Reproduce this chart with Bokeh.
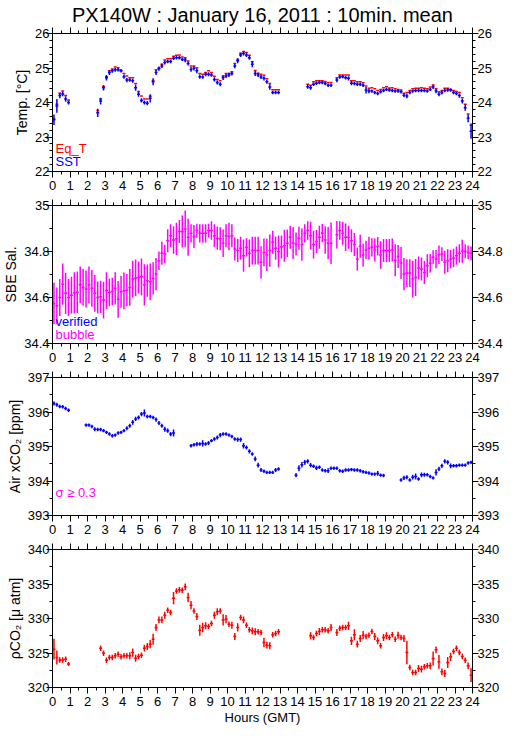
import numpy as np
from bokeh.plotting import figure
from bokeh.models import ColumnDataSource, LinearAxis, FixedTicker, Label, Range1d, Title
from bokeh.layouts import column
from bokeh.embed import file_html
from bokeh.resources import INLINE

N = None

# 10-minute bins over the day (bin centres, hours GMT)
hours = [i / 6 + 1 / 12 for i in range(144)]
hour_ticks = list(range(25))
half_hour_ticks = [h + 0.5 for h in range(24)]

# ---------------- Temperature panel ----------------
sst = [
    23.50, 23.90, 24.20, 24.25, 24.10, 24.00,
    N, N, N, N, N, N,
    N, N, N, 23.70, 24.04, 24.43,
    24.72, 24.87, 24.92, 24.95, 24.95, 24.92,
    24.75, 24.65, 24.65, 24.63, 24.43, 24.24,
    24.06, 24.00, 23.98, 24.12, 24.60, 24.87,
    24.98, 25.06, 25.16, 25.19, 25.19, 25.28,
    25.30, 25.30, 25.25, 25.23, 25.13, 24.96,
    24.99, 24.92, 24.75, 24.74, 24.82, 24.82,
    24.80, 24.67, 24.58, 24.53, 24.72, 24.77,
    24.80, 24.84, 25.06, 25.21, 25.38, 25.42,
    25.38, 25.30, 25.11, 24.84, 24.80, 24.74,
    24.70, 24.60, 24.45, 24.29, 24.29, 24.29,
    N, N, N, N, N, N,
    N, N, N, 24.46, 24.43, 24.53,
    24.56, 24.58, 24.58, 24.55, 24.50, 24.50,
    N, 24.65, 24.74, 24.75, 24.72, 24.70,
    24.56, 24.55, 24.53, 24.53, 24.50, 24.36,
    24.33, 24.33, 24.29, 24.26, 24.31, 24.35,
    24.38, 24.36, 24.35, 24.33, 24.33, 24.31,
    24.21, 24.19, 24.29, 24.33, 24.35, 24.35,
    24.35, 24.35, 24.33, 24.38, 24.45, 24.33,
    24.24, 24.29, 24.35, 24.36, 24.36, 24.29,
    24.26, 24.20, 24.04, 23.85, 23.54, 23.17,
]
sst_sd = [
    0.15, 0.20, 0.08, 0.07, 0.08, 0.06,
    0, 0, 0, 0, 0, 0,
    0, 0, 0, 0.12, 0.10, 0.08,
    0.08, 0.07, 0.06, 0.06, 0.05, 0.05,
    0.06, 0.06, 0.05, 0.06, 0.09, 0.07,
    0.06, 0.06, 0.06, 0.12, 0.10, 0.07,
    0.06, 0.06, 0.06, 0.05, 0.05, 0.05,
    0.05, 0.05, 0.05, 0.06, 0.06, 0.07,
    0.06, 0.07, 0.06, 0.05, 0.06, 0.06,
    0.05, 0.06, 0.06, 0.06, 0.07, 0.06,
    0.06, 0.06, 0.07, 0.07, 0.06, 0.06,
    0.06, 0.06, 0.09, 0.07, 0.06, 0.06,
    0.06, 0.06, 0.08, 0.05, 0.05, 0.05,
    0, 0, 0, 0, 0, 0,
    0, 0, 0, 0.06, 0.06, 0.05,
    0.05, 0.05, 0.05, 0.05, 0.05, 0.05,
    0, 0.06, 0.05, 0.05, 0.05, 0.06,
    0.06, 0.05, 0.05, 0.05, 0.05, 0.10,
    0.06, 0.05, 0.05, 0.05, 0.05, 0.05,
    0.05, 0.05, 0.05, 0.05, 0.05, 0.05,
    0.06, 0.07, 0.05, 0.05, 0.05, 0.05,
    0.05, 0.05, 0.05, 0.05, 0.06, 0.06,
    0.06, 0.06, 0.05, 0.05, 0.05, 0.05,
    0.05, 0.06, 0.07, 0.09, 0.11, 0.22,
]
eq_t = [
    23.53, 23.95, 24.27, 24.33, 24.20, 24.07,
    N, N, N, N, N, N,
    N, N, N, 23.77, 24.10, 24.46,
    24.75, 24.92, 24.97, 25.03, 25.01, 24.93,
    24.84, 24.77, 24.72, 24.72, 24.55, 24.32,
    24.19, 24.10, 24.10, 24.18, 24.64, 24.95,
    25.01, 25.11, 25.23, 25.27, 25.27, 25.34,
    25.37, 25.38, 25.32, 25.30, 25.20, 25.06,
    25.06, 25.01, 24.84, 24.82, 24.87, 24.92,
    24.87, 24.76, 24.67, 24.63, 24.77, 24.84,
    24.84, 24.89, 25.13, 25.25, 25.43, 25.48,
    25.45, 25.37, 25.18, 24.93, 24.85, 24.82,
    24.79, 24.69, 24.55, 24.37, 24.37, 24.37,
    N, N, N, N, N, N,
    N, N, N, 24.53, 24.50, 24.60,
    24.63, 24.63, 24.63, 24.61, 24.58, 24.58,
    N, 24.72, 24.80, 24.80, 24.80, 24.80,
    24.63, 24.63, 24.60, 24.60, 24.57, 24.48,
    24.41, 24.43, 24.40, 24.35, 24.38, 24.43,
    24.46, 24.42, 24.43, 24.40, 24.38, 24.36,
    24.27, 24.29, 24.35, 24.40, 24.41, 24.41,
    24.43, 24.41, 24.40, 24.45, 24.51, 24.40,
    24.31, 24.35, 24.41, 24.41, 24.38, 24.35,
    24.32, 24.29, 24.14, 23.95, 23.67, 23.34,
]
temp_ticks = [22, 23, 24, 25, 26]
temp_minor = [22.2, 22.4, 22.6, 22.8, 23.2, 23.4, 23.6, 23.8,
              24.2, 24.4, 24.6, 24.8, 25.2, 25.4, 25.6, 25.8]

# ---------------- Salinity panel ----------------
sal = [
    34.574, 34.564, 34.600, 34.658, 34.618, 34.600,
    34.610, 34.620, 34.623, 34.655, 34.644, 34.637,
    34.655, 34.640, 34.618, 34.600, 34.603, 34.589,
    34.630, 34.622, 34.626, 34.640, 34.592, 34.625,
    34.629, 34.632, 34.644, 34.680, 34.685, 34.687,
    34.690, 34.655, 34.673, 34.668, 34.683, 34.702,
    34.760, 34.792, 34.789, 34.847, 34.869, 34.850,
    34.855, 34.887, 34.887, 34.898, 34.862, 34.879,
    34.865, 34.891, 34.879, 34.879, 34.879, 34.891,
    34.891, 34.869, 34.858, 34.855, 34.836, 34.869,
    34.865, 34.869, 34.811, 34.804, 34.814, 34.782,
    34.818, 34.792, 34.804, 34.804, 34.804, 34.753,
    34.796, 34.785, 34.804, 34.840, 34.814, 34.800,
    34.820, 34.825, 34.836, 34.862, 34.837, 34.833,
    34.858, 34.830, 34.879, 34.891, 34.869, 34.830,
    34.843, 34.862, 34.880, 34.850, 34.836, 34.836,
    N, 34.873, 34.891, 34.879, 34.862, 34.862,
    34.847, 34.830, 34.767, 34.823, 34.785, 34.807,
    34.814, 34.818, 34.807, 34.823, 34.785, 34.804,
    34.804, 34.804, 34.807, 34.762, 34.778, 34.750,
    34.702, 34.706, 34.706, 34.680, 34.687, 34.728,
    34.724, 34.709, 34.738, 34.749, 34.775, 34.767,
    34.786, 34.789, 34.753, 34.760, 34.767, 34.772,
    34.782, 34.792, 34.801, 34.801, 34.796, 34.792,
]
sal_sd = [
    0.09, 0.08, 0.08, 0.09, 0.09, 0.08,
    0.08, 0.09, 0.09, 0.08, 0.08, 0.08,
    0.08, 0.08, 0.08, 0.07, 0.07, 0.08,
    0.08, 0.06, 0.06, 0.07, 0.08, 0.07,
    0.08, 0.07, 0.08, 0.08, 0.08, 0.07,
    0.08, 0.09, 0.07, 0.08, 0.07, 0.07,
    0.04, 0.05, 0.04, 0.05, 0.05, 0.06,
    0.07, 0.05, 0.07, 0.08, 0.08, 0.04,
    0.05, 0.03, 0.04, 0.04, 0.04, 0.03,
    0.04, 0.05, 0.05, 0.05, 0.06, 0.05,
    0.06, 0.05, 0.05, 0.05, 0.05, 0.07,
    0.04, 0.06, 0.06, 0.06, 0.06, 0.07,
    0.06, 0.07, 0.07, 0.05, 0.05, 0.07,
    0.05, 0.07, 0.06, 0.05, 0.07, 0.05,
    0.05, 0.07, 0.04, 0.04, 0.06, 0.06,
    0.05, 0.05, 0.04, 0.06, 0.07, 0.09,
    0, 0.06, 0.04, 0.05, 0.06, 0.05,
    0.05, 0.05, 0.05, 0.05, 0.05, 0.04,
    0.05, 0.04, 0.05, 0.04, 0.06, 0.05,
    0.05, 0.05, 0.05, 0.07, 0.05, 0.07,
    0.07, 0.06, 0.06, 0.08, 0.08, 0.05,
    0.05, 0.05, 0.05, 0.04, 0.03, 0.04,
    0.04, 0.03, 0.05, 0.05, 0.04, 0.04,
    0.04, 0.04, 0.05, 0.03, 0.03, 0.03,
]
sal_ticks = [34.4, 34.6, 34.8, 35.0]
sal_minor = [34.5, 34.7, 34.9]

# ---------------- Air xCO2 panel ----------------
air_xco2 = [
    396.25, 396.21, 396.16, 396.15, 396.10, 396.05,
    N, N, N, N, N, 395.62,
    395.62, 395.58, 395.50, 395.49, 395.49, 395.46,
    395.41, 395.36, 395.31, 395.33, 395.39, 395.41,
    395.46, 395.53, 395.60, 395.70, 395.80, 395.84,
    395.94, 395.97, 395.87, 395.87, 395.84, 395.78,
    395.68, 395.60, 395.50, 395.46, 395.36, 395.39,
    N, N, N, N, N, 395.02,
    395.05, 395.07, 395.07, 395.09, 395.07, 395.10,
    395.17, 395.22, 395.26, 395.33, 395.36, 395.36,
    395.33, 395.29, 395.22, 395.20, 395.20, 395.02,
    394.97, 394.86, 394.78, 394.64, 394.46, 394.32,
    394.28, 394.25, 394.25, 394.25, 394.32, 394.35,
    N, N, N, N, N, 394.17,
    394.37, 394.47, 394.54, 394.57, 394.46, 394.43,
    394.38, 394.40, 394.32, 394.30, 394.30, 394.37,
    394.37, 394.37, 394.30, 394.28, 394.32, 394.32,
    394.33, 394.32, 394.32, 394.30, 394.27, 394.25,
    394.23, 394.20, 394.20, 394.22, 394.17, 394.16,
    N, N, N, N, N, 394.03,
    394.09, 394.11, 394.03, 394.11, 394.13, 394.06,
    394.18, 394.18, 394.18, 394.13, 394.09, 394.25,
    394.35, 394.44, 394.57, 394.54, 394.44, 394.44,
    394.44, 394.46, 394.46, 394.46, 394.52, 394.54,
]
air_sd = [
    0.06, 0.06, 0.05, 0.05, 0.05, 0.05,
    0, 0, 0, 0, 0, 0.05,
    0.05, 0.05, 0.06, 0.05, 0.05, 0.05,
    0.05, 0.05, 0.05, 0.05, 0.05, 0.05,
    0.05, 0.06, 0.06, 0.07, 0.06, 0.06,
    0.06, 0.10, 0.05, 0.05, 0.05, 0.06,
    0.06, 0.06, 0.07, 0.06, 0.06, 0.10,
    0, 0, 0, 0, 0, 0.05,
    0.05, 0.06, 0.05, 0.09, 0.05, 0.06,
    0.05, 0.05, 0.06, 0.06, 0.05, 0.05,
    0.05, 0.05, 0.05, 0.06, 0.06, 0.08,
    0.06, 0.06, 0.05, 0.07, 0.07, 0.06,
    0.05, 0.05, 0.05, 0.05, 0.06, 0.05,
    0, 0, 0, 0, 0, 0.06,
    0.09, 0.08, 0.07, 0.06, 0.06, 0.05,
    0.06, 0.05, 0.05, 0.05, 0.07, 0.05,
    0.05, 0.05, 0.05, 0.05, 0.05, 0.05,
    0.05, 0.05, 0.05, 0.05, 0.05, 0.05,
    0.05, 0.05, 0.05, 0.07, 0.05, 0.05,
    0, 0, 0, 0, 0, 0.05,
    0.06, 0.06, 0.05, 0.07, 0.09, 0.05,
    0.07, 0.06, 0.05, 0.05, 0.05, 0.09,
    0.06, 0.06, 0.06, 0.06, 0.07, 0.05,
    0.05, 0.05, 0.05, 0.05, 0.05, 0.05,
]
air_ticks = [393, 394, 395, 396, 397]
air_minor = [393.5, 394.5, 395.5, 396.5]

# ---------------- pCO2 panel ----------------
pco2 = [
    325.56, 324.35, 324.00, 324.00, 324.10, 323.40,
    N, N, N, N, N, N,
    N, N, N, N, 325.70, 324.98,
    323.96, 324.35, 324.35, 324.60, 324.83, 324.44,
    324.60, 324.60, 324.60, 325.07, 324.25, 324.50,
    324.69, 325.70, 325.94, 326.28, 327.00, 328.70,
    329.80, 329.80, 330.48, 331.20, 330.87, 332.95,
    334.00, 334.15, 334.10, 334.59, 333.04, 331.93,
    331.10, 330.29, 328.30, 328.70, 328.94, 328.84,
    329.28, 330.48, 330.97, 331.10, 329.80, 329.90,
    329.18, 329.03, 327.39, 328.70, 330.14, 329.80,
    329.03, 328.36, 328.21, 328.07, 328.07, 327.97,
    326.52, 326.14, 326.04, 327.63, 327.83, 328.07,
    N, N, N, N, N, N,
    N, N, N, N, 327.49, 327.25,
    327.83, 328.12, 328.36, 328.36, 328.21, 328.70,
    N, 327.97, 328.60, 328.70, 328.70, 328.94,
    326.76, 327.63, 326.28, 327.10, 327.58, 327.39,
    327.58, 328.12, 327.39, 326.76, 326.04, 327.25,
    327.49, 327.25, 327.63, 327.00, 327.58, 327.25,
    327.10, 325.07, 322.90, 322.17, 322.17, 322.75,
    322.66, 323.00, 323.14, 323.14, 324.20, 325.46,
    323.72, 322.27, 322.03, 323.62, 324.44, 325.22,
    325.70, 325.07, 324.49, 323.96, 323.14, 321.79,
]
pco2_sd = [
    1.5, 1.0, 0.4, 0.4, 0.4, 0.3,
    0, 0, 0, 0, 0, 0,
    0, 0, 0, 0, 0.4, 0.4,
    0.4, 0.4, 0.4, 0.4, 0.4, 0.4,
    0.4, 0.4, 0.5, 0.6, 0.5, 0.4,
    0.4, 0.5, 0.5, 0.6, 0.8, 0.5,
    0.5, 0.5, 0.5, 0.4, 0.4, 0.9,
    0.4, 0.4, 0.4, 0.5, 0.7, 0.6,
    0.4, 0.5, 0.8, 0.7, 0.5, 0.4,
    0.4, 0.5, 0.5, 0.4, 0.8, 0.6,
    0.4, 0.5, 0.5, 0.6, 0.4, 0.5,
    0.4, 0.4, 0.5, 0.5, 0.4, 0.4,
    0.7, 0.5, 0.5, 0.4, 0.4, 0.4,
    0, 0, 0, 0, 0, 0,
    0, 0, 0, 0, 0.5, 0.4,
    0.4, 0.5, 0.4, 0.4, 0.4, 0.5,
    0, 0.5, 0.4, 0.4, 0.4, 0.6,
    0.6, 0.8, 0.5, 0.5, 0.6, 0.4,
    0.4, 0.4, 0.5, 0.5, 0.4, 0.5,
    0.5, 0.4, 0.4, 0.4, 0.5, 0.4,
    0.5, 1.7, 0.4, 0.4, 0.4, 0.5,
    0.5, 0.4, 0.4, 0.5, 1.0, 0.5,
    1.0, 0.5, 0.5, 0.8, 0.6, 0.4,
    0.4, 0.4, 0.4, 0.4, 0.5, 1.0,
]
pco2_ticks = [320, 325, 330, 335, 340]
pco2_minor = [322.5, 327.5, 332.5, 337.5]

# ---------------- styling / layout ----------------
FONT = "Liberation Sans"
RED, BLUE, MAGENTA = "#FF0000", "#0000FF", "#FF00FF"
LEFT, RIGHT = 48, 31
FW = 499 - LEFT - RIGHT
FH = 138
HALF_BIN = 1 / 12
LW = 1.5


def style_axis(ax):
    ax.axis_line_color = "black"
    ax.axis_line_width = 1
    ax.major_tick_line_color = "black"
    ax.minor_tick_line_color = "black"
    ax.major_tick_in = 0
    ax.major_tick_out = 6
    ax.minor_tick_in = 0
    ax.minor_tick_out = 3
    ax.major_label_text_font = FONT
    ax.major_label_text_color = "black"


def make_fig(y_lo, y_hi, yticks, yminor, top, bottom, ylab, overrides=None):
    p = figure(frame_width=FW, frame_height=FH,
               x_range=Range1d(0, 24), y_range=Range1d(y_lo, y_hi),
               x_axis_type=None, y_axis_type=None, title=None,
               output_backend="svg", toolbar_location=None,
               min_border_left=LEFT, min_border_right=RIGHT,
               min_border_top=top, min_border_bottom=bottom,
               background_fill_color="white", border_fill_color="white",
               outline_line_color="black", outline_line_width=1)
    xt = FixedTicker(ticks=hour_ticks, minor_ticks=half_hour_ticks)
    below = LinearAxis(ticker=xt)
    style_axis(below)
    below.major_label_text_font_size = "13px"
    below.major_label_standoff = 3
    p.add_layout(below, "below")
    above = LinearAxis(ticker=xt)
    style_axis(above)
    above.major_label_text_font_size = "0px"
    above.major_label_text_color = None
    above.major_label_standoff = 0
    p.add_layout(above, "above")
    yt = FixedTicker(ticks=yticks, minor_ticks=yminor)
    for side, standoff in (("left", -3), ("right", -1)):
        ax = LinearAxis(ticker=yt)
        style_axis(ax)
        ax.major_label_text_font_size = "13px"
        ax.major_label_standoff = standoff
        if overrides:
            ax.major_label_overrides = overrides
        if side == "left":
            ax.axis_label = ylab
            ax.axis_label_standoff = 2
            ax.axis_label_text_font = FONT
            ax.axis_label_text_font_size = "14px"
            ax.axis_label_text_font_style = "normal"
            ax.axis_label_text_color = "black"
        p.add_layout(ax, side)
    return p, below


def series(vals, sds=None):
    t = np.array(hours)
    v = np.array([np.nan if x is None else x for x in vals], dtype=float)
    s = np.zeros_like(v) if sds is None else np.array(sds, dtype=float)
    m = ~np.isnan(v)
    t, v, s = t[m], v[m], s[m]
    return ColumnDataSource(dict(t=t, v=v, lo=v - s, hi=v + s,
                                 x0=t - HALF_BIN, x1=t + HALF_BIN))


def crosses(p, src, color, vertical=True, lw=LW):
    p.segment(x0="x0", y0="v", x1="x1", y1="v", source=src,
              line_color=color, line_width=lw)
    if vertical:
        p.segment(x0="t", y0="lo", x1="t", y1="hi", source=src,
                  line_color=color, line_width=lw)


def note(p, text, y, color):
    p.add_layout(Label(x=3, y=y, x_units="screen", y_units="screen",
                       text=text, text_align="left", text_baseline="middle",
                       text_font=FONT, text_font_size="13px", text_color=color))


TOP1, GAP_TOP, GAP_BOTTOM = 30, 9, 25
LAST_BOTTOM = 723 - (TOP1 + FH + GAP_BOTTOM) - 2 * (GAP_TOP + FH + GAP_BOTTOM) - (GAP_TOP + FH)

# Panel 1: temperatures
p1, _ = make_fig(22, 26, temp_ticks, temp_minor, TOP1, GAP_BOTTOM, "Temp. [°C]")
crosses(p1, series(eq_t), RED, vertical=False)
crosses(p1, series(sst, sst_sd), BLUE)
note(p1, "Eq_T", 23, RED)
note(p1, "SST", 10, BLUE)
p1.add_layout(Title(text="PX140W : January 16, 2011 : 10min. mean", align="center",
                    text_font=FONT, text_font_size="20px", text_font_style="normal",
                    text_color="black", standoff=3, offset=0), "above")

# Panel 2: salinity
p2, _ = make_fig(34.4, 35.0, sal_ticks, sal_minor, GAP_TOP, GAP_BOTTOM, "SBE Sal.", {35.0: "35"})
crosses(p2, series(sal, sal_sd), MAGENTA)
note(p2, "verified", 22, BLUE)
note(p2, "bubble", 9, MAGENTA)

# Panel 3: atmospheric xCO2
p3, _ = make_fig(393, 397, air_ticks, air_minor, GAP_TOP, GAP_BOTTOM, "Air xCO₂ [ppm]")
crosses(p3, series(air_xco2, air_sd), BLUE)
note(p3, "σ ≥ 0.3", 23, MAGENTA)

# Panel 4: seawater pCO2
p4, b4 = make_fig(320, 340, pco2_ticks, pco2_minor, GAP_TOP, LAST_BOTTOM, "ρCO₂ [μ atm]")
crosses(p4, series(pco2, pco2_sd), RED)
b4.axis_label = "Hours (GMT)"
b4.axis_label_standoff = 1
b4.axis_label_text_font = FONT
b4.axis_label_text_font_size = "13px"
b4.axis_label_text_font_style = "normal"
b4.axis_label_text_color = "black"

layout = column(p1, p2, p3, p4, spacing=0)

open("out.html", "w").write(file_html(layout, INLINE, "PX140W"))
